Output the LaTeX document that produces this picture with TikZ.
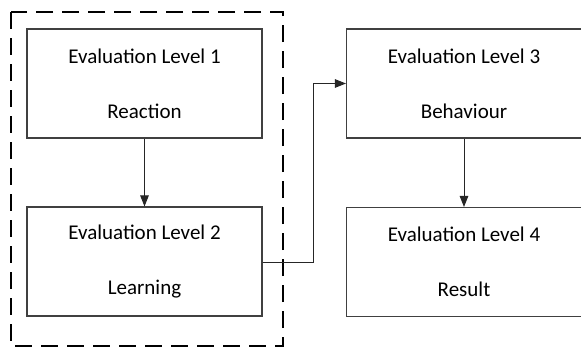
\documentclass[tikz,border=0pt]{standalone}
\usepackage{fontspec}
\setmainfont{Carlito}
\usetikzlibrary{arrows.meta}
\begin{document}
\begin{tikzpicture}[x=1pt,y=-1pt,
  level/.style={draw=black!75, line width=1.1pt, minimum width=235pt, minimum height=109pt,
    inner sep=0pt, align=center, font=\fontsize{21}{55}\selectfont},
  link/.style={draw=black!85, line width=1pt, -{Triangle[length=11pt,width=8.5pt]}},
  group/.style={draw=black, line width=2pt, dash pattern=on 17pt off 9pt}]
  \useasboundingbox (0,0) rectangle (581,349);
  % the four evaluation levels
  \node[level] (l1) at (144.5,83.5) {Evaluation Level 1\\Reaction};
  \node[level] (l2) at (144.5,261.5) {Evaluation Level 2\\Learning};
  \node[level] (l3) at (464,83.5) {Evaluation Level 3\\Behaviour};
  \node[level] (l4) at (464,262) {Evaluation Level 4\\Result};
  % dashed frame around levels 1 and 2
  \draw[group] (11,12) rectangle (283,346);
  % connectors
  \coordinate (bend) at (313,262);
  \draw[link] (l1) -- (l2);
  \draw[link] (l3) -- (l4);
  \draw[link] (l2.east |- bend) -- (bend) |- (l3.west);
\end{tikzpicture}
\end{document}
